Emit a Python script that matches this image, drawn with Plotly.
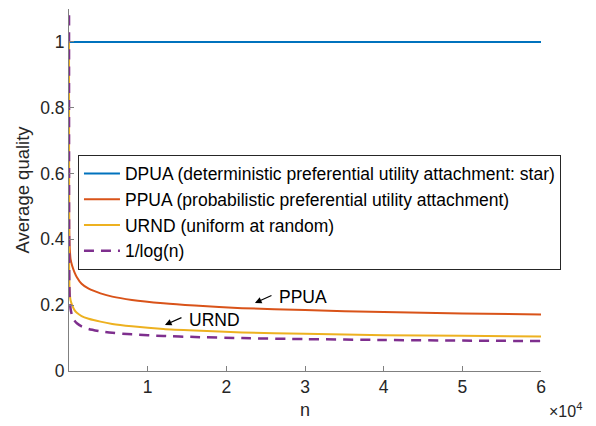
import plotly.graph_objects as go

# Network size n at which the average quality was sampled
n = [1, 2, 3, 5, 10, 20, 50, 100, 200, 400, 700, 1000, 1600, 2500, 4000,
     5500, 8000, 12000, 16000, 22000, 30000, 40000, 50000, 60000]

dpua = [1.0] * len(n)
ppua = [1.0, 0.80, 0.72, 0.62, 0.53, 0.46, 0.40, 0.37, 0.34, 0.32, 0.30, 0.285,
        0.265, 0.25, 0.236, 0.226, 0.216, 0.206, 0.199, 0.191, 0.185, 0.179,
        0.175, 0.172]
urnd = [1.0, 0.75, 0.62, 0.50, 0.40, 0.32, 0.26, 0.235, 0.215, 0.20, 0.185, 0.177,
        0.167, 0.159, 0.15, 0.143, 0.136, 0.128, 0.123, 0.117, 0.113, 0.109,
        0.107, 0.105]
inv_log = [None, 1.443, 0.910, 0.621, 0.434, 0.334, 0.256, 0.217, 0.189, 0.167,
           0.153, 0.145, 0.1355, 0.1278, 0.1206, 0.1162, 0.1113, 0.1065, 0.1033,
           0.0999, 0.0970, 0.0943, 0.0924, 0.0909]

x_ticks = [10000, 20000, 30000, 40000, 50000, 60000]
x_tick_text = ["1", "2", "3", "4", "5", "6"]
y_ticks = [0, 0.2, 0.4, 0.6, 0.8, 1]
y_tick_text = ["0", "0.2", "0.4", "0.6", "0.8", "1"]

FONT = "Liberation Sans, Arial, Helvetica, sans-serif"
FS = 17.5
TXT = "#262626"
AX = "#808080"

fig = go.Figure()
fig.add_trace(go.Scatter(x=n, y=dpua, mode="lines",
                         name="DPUA (deterministic preferential utility attachment: star)",
                         line=dict(color="#0072BD", width=2)))
fig.add_trace(go.Scatter(x=n, y=ppua, mode="lines",
                         name="PPUA (probabilistic preferential utility attachment)",
                         line=dict(color="#D95319", width=2, shape="spline", smoothing=0.6)))
fig.add_trace(go.Scatter(x=n, y=urnd, mode="lines",
                         name="URND (uniform at random)",
                         line=dict(color="#EDB120", width=2, shape="spline", smoothing=0.6)))
fig.add_trace(go.Scatter(x=n, y=inv_log, mode="lines",
                         name="1/log(n)",
                         line=dict(color="#7E2F8E", width=2.5, dash="10px,7px",
                                   shape="spline", smoothing=0.6)))

# arrows pointing at the curves, with their labels
arrows = [
    dict(tip=(23640, 0.207), label="PPUA", pos=(26400, 0.226)),
    dict(tip=(12200, 0.140), label="URND", pos=(14950, 0.156)),
]
for a in arrows:
    fig.add_annotation(x=a["tip"][0], y=a["tip"][1], ax=18, ay=-8, text="",
                       showarrow=True, arrowhead=2, arrowsize=1.1, arrowwidth=1.2,
                       arrowcolor="black")
    fig.add_annotation(x=a["pos"][0], y=a["pos"][1], text=a["label"], showarrow=False,
                       xanchor="left", yanchor="middle",
                       font=dict(family=FONT, size=FS, color="black"))

fig.add_annotation(xref="paper", yref="paper", x=1.012, y=-0.108, xanchor="left",
                   yanchor="middle", text="\u00d710<sup>4</sup>", showarrow=False,
                   font=dict(family=FONT, size=16, color=TXT))

fig.update_layout(
    width=596, height=426,
    margin=dict(l=69, r=55, t=9, b=55),
    paper_bgcolor="white", plot_bgcolor="white",
    font=dict(family=FONT, size=FS, color=TXT),
    showlegend=True,
    legend=dict(x=0.019, y=0.598, xanchor="left", yanchor="top",
                bgcolor="white", bordercolor=TXT, borderwidth=1,
                font=dict(family=FONT, size=FS, color="black"),
                tracegroupgap=0, itemwidth=36),
    xaxis=dict(range=[0, 60000], tickvals=x_ticks, ticktext=x_tick_text,
               showgrid=False, zeroline=False, showline=True, linecolor=AX,
               linewidth=1, ticks="inside", ticklen=5, tickcolor=AX,
               tickfont=dict(size=FS, color=TXT),
               title=dict(text="n", standoff=7, font=dict(size=18, color=TXT))),
    yaxis=dict(range=[0, 1.1], tickvals=y_ticks, ticktext=y_tick_text,
               showgrid=False, zeroline=False, showline=True, linecolor=AX,
               linewidth=1, ticks="inside", ticklen=5, tickcolor=AX,
               tickfont=dict(size=FS, color=TXT),
               title=dict(text="Average quality", standoff=5,
                          font=dict(size=18.5, color=TXT))),
)

fig.write_html("out.html")
